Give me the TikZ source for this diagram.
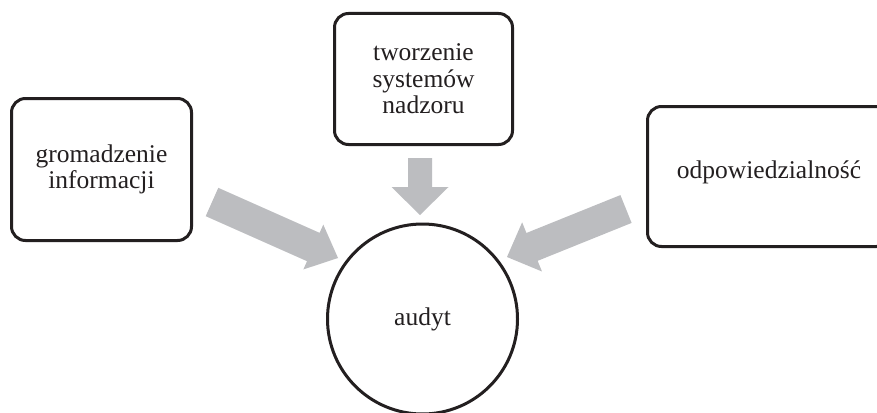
\documentclass[tikz,border=0pt]{standalone}
\usepackage{fontspec}
\setmainfont{Liberation Serif}
\usetikzlibrary{calc}
\definecolor{inkblack}{RGB}{35,31,32}
\definecolor{arrowgray}{RGB}{188,189,192}
\tikzset{
  label font/.style={font=\fontsize{25.5}{26.5}\selectfont, text=inkblack, align=center},
  topicbox/.style={draw=inkblack, line width=3pt, rounded corners=14pt, inner sep=0pt, label font},
  hubcircle/.style={draw=inkblack, line width=3pt, circle, inner sep=0pt, label font},
  arrowfill/.style={fill=arrowgray, draw=none}
}
% block arrow from tail #1 to tip #2: shaft half-width #3, head half-width #4, head length #5
\newcommand\blockarrow[5]{%
  \fill[arrowfill]
    ($(#1)!#3!90:(#2)$)
    -- ($($(#2)!#5!(#1)$)!#3!-90:(#1)$)
    -- ($($(#2)!#5!(#1)$)!#4!-90:(#1)$)
    -- (#2)
    -- ($($(#2)!#5!(#1)$)!#4!90:(#1)$)
    -- ($($(#2)!#5!(#1)$)!#3!90:(#1)$)
    -- ($(#1)!#3!-90:(#2)$)
    -- cycle;}
\begin{document}
\begin{tikzpicture}[x=1pt, y=-1pt]
  \clip (0,0) rectangle (877,412);
  \fill[white] (0,0) rectangle (877,412);

  % topic boxes and the central circle
  \node[topicbox, minimum width=180pt, minimum height=142pt] (info) at (101.5,169.5)
    {gromadzenie\\informacji};
  \node[topicbox, minimum width=178pt, minimum height=131pt] (nadzor) at (423.5,79)
    {tworzenie\\systemów\\nadzoru};
  \node[topicbox, minimum width=243pt, minimum height=140pt] (odp) at (769,176.5) {};
  \node[label font, anchor=base] (odptext) at (769,178) {odpowiedzialność};
  \node[hubcircle, minimum size=190pt] (audyt) at (422.5,319) {audyt};

  % block arrows pointing to the circle
  \coordinate (a1tail) at (212,202);
  \coordinate (a1tip)  at (338,258);
  \coordinate (a2tail) at (420,158);
  \coordinate (a2tip)  at (420,215);
  \coordinate (a3tail) at (626,209);
  \coordinate (a3tip)  at (507,257);
  \blockarrow{a1tail}{a1tip}{15.5pt}{24.5pt}{27pt}
  \blockarrow{a2tail}{a2tip}{12pt}{28.5pt}{28pt}
  \blockarrow{a3tail}{a3tip}{15pt}{26.5pt}{27pt}
\end{tikzpicture}
\end{document}
